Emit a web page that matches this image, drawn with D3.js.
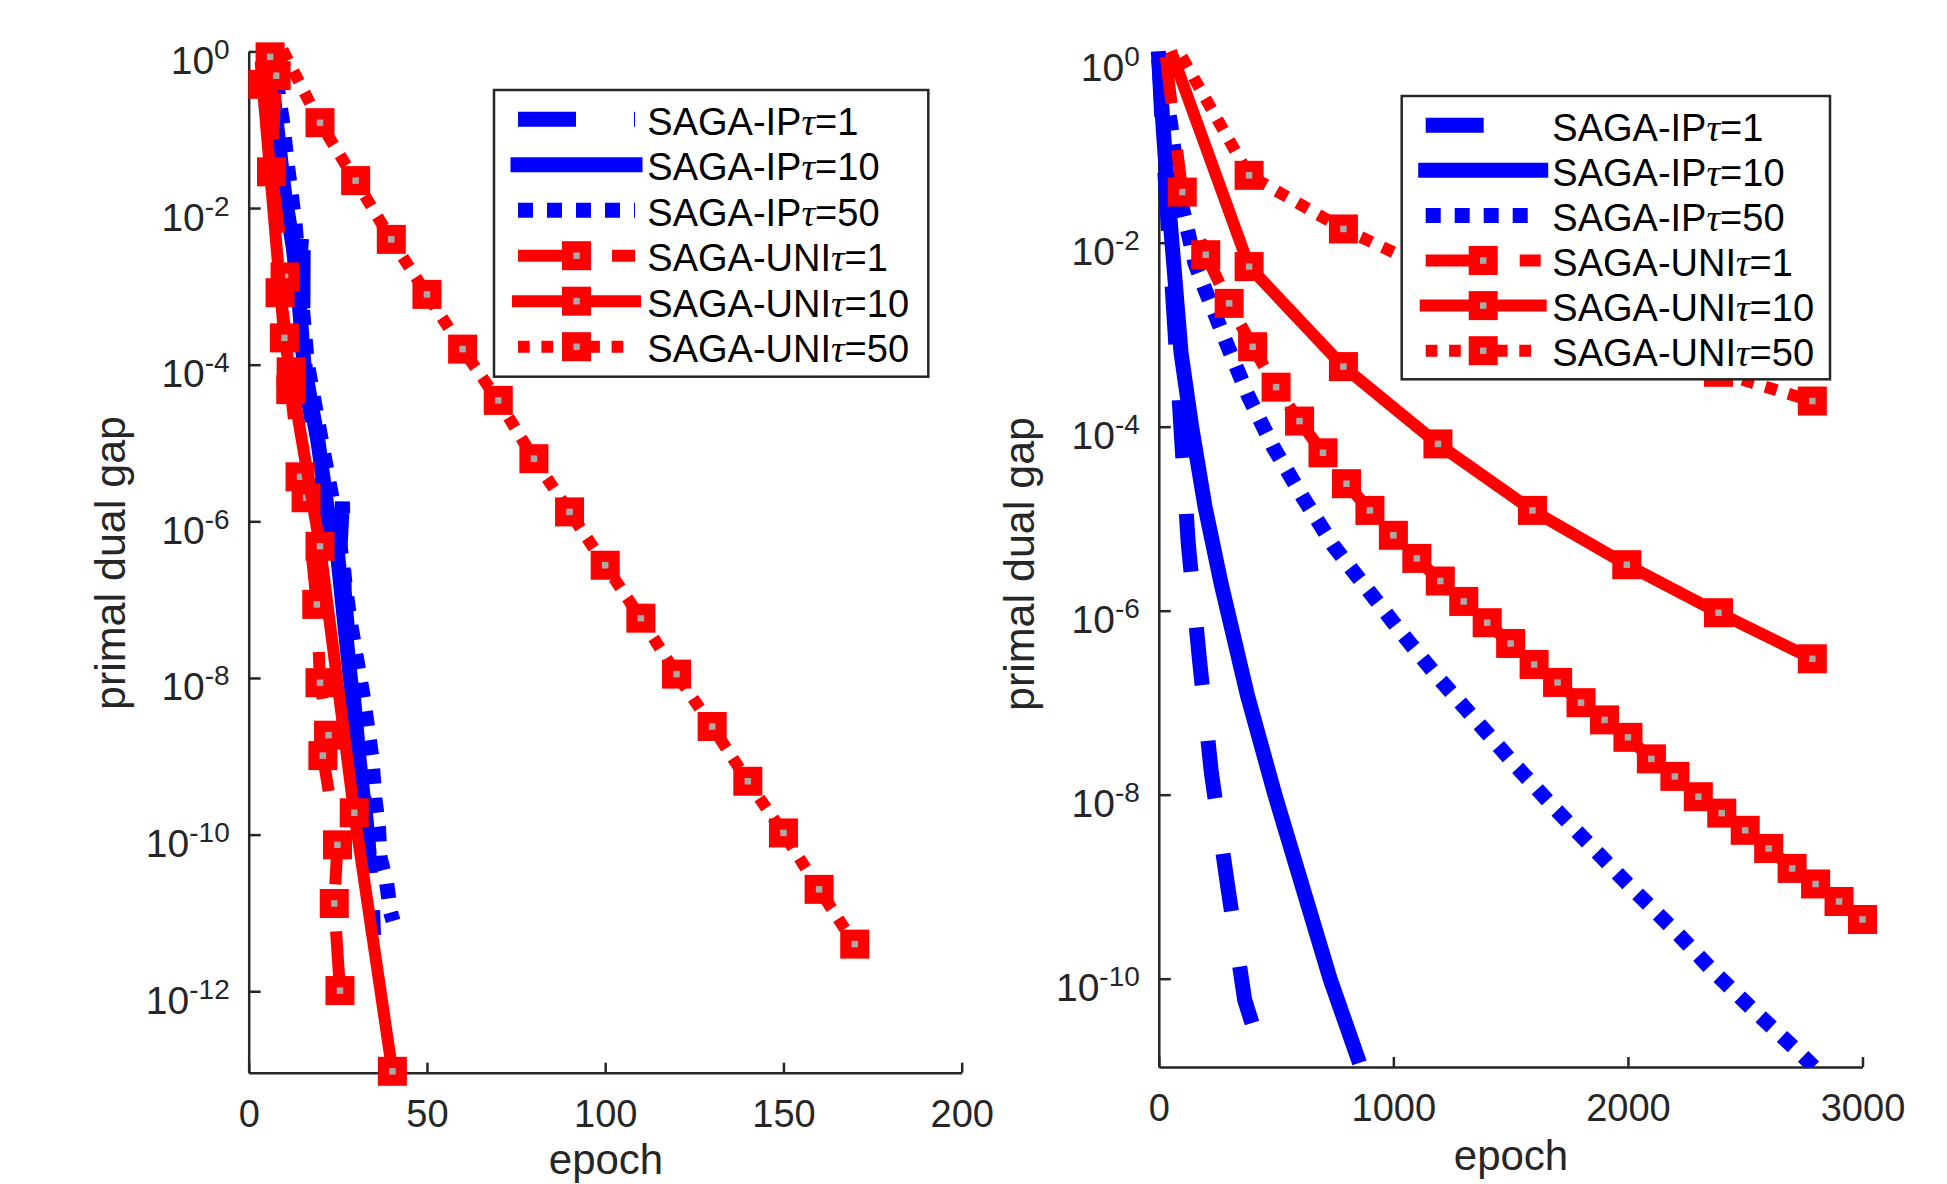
<!DOCTYPE html>
<html>
<head>
<meta charset="utf-8">
<script src="https://cdn.jsdelivr.net/npm/d3@7/dist/d3.min.js"></script>
<style>
html,body{margin:0;padding:0;background:#ffffff;}
svg{display:block;}
</style>
</head>
<body>
<svg id="fig" width="1947" height="1184" xmlns="http://www.w3.org/2000/svg"></svg>
<script>
// ---------------- DATA ----------------
const legendNames = ["SAGA-IP", "SAGA-IP", "SAGA-IP", "SAGA-UNI", "SAGA-UNI", "SAGA-UNI"];
const legendTaus  = ["1", "10", "50", "1", "10", "50"];

const leftXTicks  = [0, 50, 100, 150, 200];
const leftYTicks  = [1, 1e-2, 1e-4, 1e-6, 1e-8, 1e-10, 1e-12];
const leftYExp    = ["0", "-2", "-4", "-6", "-8", "-10", "-12"];
const rightXTicks = [0, 1000, 2000, 3000];
const rightYTicks = [1, 1e-2, 1e-4, 1e-6, 1e-8, 1e-10];
const rightYExp   = ["0", "-2", "-4", "-6", "-8", "-10"];

// ---- left panel (epoch 0..200) ----
const leftEpochIP1 = [5.5, 4.8, 7, 9, 11.5, 13.8, 15.3, 15.2, 16, 19, 22, 25.3, 26.3, 26.8, 28.5, 30.5, 32.5, 34.5, 35];
const leftGapIP1   = [1.0, 0.126, 3.16e-2, 7.9e-3, 2.5e-3, 1.0e-3, 7.8e-3, 4.0e-4, 6.3e-5, 7.9e-6, 1.26e-6, 2.5e-7, 1.78e-6, 1.26e-7, 1.58e-8, 1.58e-9, 2.5e-10, 2.5e-11, 5.2e-12];

const leftEpochIP10 = [6, 7, 8.5, 10, 12.5, 14, 15.5, 19.5, 22.5, 24.8, 28.5, 32.6, 34];
const leftGapIP10   = [1.0, 0.251, 6.3e-2, 1.58e-2, 3.16e-3, 7.9e-4, 1.0e-4, 1.0e-5, 1.0e-6, 4.3e-7, 1.0e-8, 1.86e-10, 4.0e-11];

const leftEpochIP50 = [6.5, 9.5, 11, 13, 14.5, 16.5, 20.5, 25, 28.4, 32.2, 34.5, 35.4, 36.4, 36.8, 38.7, 39.8, 40.5];
const leftGapIP50   = [1.0, 0.126, 3.16e-2, 6.3e-3, 1.0e-3, 1.0e-4, 1.0e-5, 7.9e-7, 5.5e-8, 5.5e-9, 1.0e-9, 2.9e-10, 1.26e-10, 5.2e-11, 2.4e-11, 1.02e-11, 7.9e-12];

const leftEpochUNI1 = [4.5, 4.0, 6.0, 7.7, 6.4, 10.2, 8.8, 11.9, 11.8, 14.4, 16.1, 19.1, 20, 22.4, 20.8, 24.9, 24, 25.6];
const leftGapUNI1   = [0.891, 0.38, 0.851, 0.49, 2.9e-2, 1.32e-3, 8.3e-4, 8.1e-5, 4.8e-5, 3.7e-6, 2.0e-6, 8.7e-8, 8.7e-9, 1.86e-9, 1.02e-9, 7.4e-11, 1.32e-11, 1.02e-12];

const leftEpochUNI10 = [3.5, 10, 20, 29.6, 40.3];
const leftGapUNI10   = [0.63, 2.2e-4, 4.8e-7, 1.9e-10, 9.5e-14];

const leftEpochUNI50 = [9.5, 20, 30, 40, 50, 60, 70, 80, 90, 100, 110, 120, 130, 140, 150, 160, 170];
const leftGapUNI50   = [1.05, 0.123, 2.24e-2, 3.98e-3, 7.9e-4, 1.58e-4, 3.5e-5, 6.3e-6, 1.32e-6, 2.75e-7, 5.8e-8, 1.12e-8, 2.4e-9, 4.8e-10, 1.05e-10, 2.0e-11, 4.0e-12];

// ---- right panel (epoch 0..3000) ----
const rightEpochIP1 = [0, 20, 45, 70, 95, 125, 173, 224, 294, 366, 412];
const rightGapIP1   = [1.0, 0.1, 1.0e-2, 1.0e-3, 9.1e-5, 5.6e-6, 3.0e-7, 1.74e-8, 1.0e-9, 5.9e-11, 2.5e-11];

const rightEpochIP10 = [0, 20, 40, 95, 140, 197, 265, 378, 495, 730, 845];
const rightGapIP10   = [1.0, 0.158, 3.16e-2, 6.3e-4, 1.0e-4, 1.35e-5, 2.0e-6, 1.2e-7, 1.0e-8, 1.0e-10, 1.45e-11];

const rightEpochIP50 = [0, 50, 75, 100, 126, 154, 197, 240, 290, 382, 488, 612, 744, 893, 1043, 1202, 1362, 1519, 1686, 1859, 2026, 2201, 2368, 2541, 2721, 2830];
const rightGapIP50   = [1.0, 0.2, 6.3e-2, 2.4e-2, 1.26e-2, 6.0e-3, 3.1e-3, 1.66e-3, 7.9e-4, 2.14e-4, 6.0e-5, 1.74e-5, 5.1e-6, 1.66e-6, 5.4e-7, 1.74e-7, 6.0e-8, 2.1e-8, 7.2e-9, 2.5e-9, 9.1e-10, 3.3e-10, 1.17e-10, 4.4e-11, 1.66e-11, 8.9e-12];

const rightEpochUNI1 = [30, 100, 200, 300, 400, 500, 600, 700, 800, 900, 1000, 1100, 1200, 1300, 1400, 1500, 1600, 1700, 1800, 1900, 2000, 2100, 2200, 2300, 2400, 2500, 2600, 2700, 2800, 2900, 3000];
const rightGapUNI1   = [1.05, 3.55e-2, 7.4e-3, 2.19e-3, 7.4e-4, 2.69e-4, 1.15e-4, 5.2e-5, 2.4e-5, 1.23e-5, 6.6e-6, 3.7e-6, 2.1e-6, 1.26e-6, 7.4e-7, 4.4e-7, 2.6e-7, 1.66e-7, 1.0e-7, 6.5e-8, 4.2e-8, 2.45e-8, 1.58e-8, 9.5e-9, 6.3e-9, 4.1e-9, 2.6e-9, 1.58e-9, 1.07e-9, 6.9e-10, 4.4e-10];

const rightEpochUNI10 = [61, 385, 787, 1190, 1593, 1995, 2386, 2786];
const rightGapUNI10   = [1.05, 5.5e-3, 4.5e-4, 6.5e-5, 1.23e-5, 3.16e-6, 9.5e-7, 3.0e-7];

const rightEpochUNI50 = [98, 385, 787, 1190, 1593, 1995, 2386, 2786];
const rightGapUNI50   = [1.05, 5.4e-2, 1.41e-2, 4.7e-3, 1.74e-3, 7.8e-4, 3.9e-4, 1.9e-4];

// ---------------- STYLE ----------------
const AX = "#262626";
const FONT = "'Liberation Sans', Arial, Helvetica, sans-serif";
const styles = [
  {color: "#0000ff", width: 15, dash: "58,56", legDash: "58,58",     cap: "butt",   marker: false},
  {color: "#0000ff", width: 15, dash: null,    legDash: null,        cap: "square", marker: false},
  {color: "#0000ff", width: 15, dash: "15,14", legDash: "15,14",     cap: "butt",   marker: false},
  {color: "#ff0000", width: 12, dash: "47,47", legDash: "47,47",     cap: "butt",   marker: true},
  {color: "#ff0000", width: 12, dash: null,    legDash: null,        cap: "square", marker: true},
  {color: "#ff0000", width: 12, dash: "12,12", legDash: "11.7,11.7", cap: "butt",   marker: true}
];
const MS = 29, MC = 6.5;

const panels = [
  {
    id: "L",
    x: d3.scaleLinear().domain([0, 200]).range([248.7, 961.7]),
    y: d3.scaleLog().domain([1, 9.12e-14]).range([51.4, 1072.7]),
    xTicks: leftXTicks, yTicks: leftYTicks, yExp: leftYExp,
    series: [[leftEpochIP1, leftGapIP1], [leftEpochIP10, leftGapIP10], [leftEpochIP50, leftGapIP50],
             [leftEpochUNI1, leftGapUNI1], [leftEpochUNI10, leftGapUNI10], [leftEpochUNI50, leftGapUNI50]],
    xLab: [606, 1174], yLab: [125, 563],
    leg: {x: 494, y: 90, w: 434.3, h: 286.7, row0: 119.2, dy: 45.5, s0: 518, s1: 635, tx: 647.3}
  },
  {
    id: "R",
    x: d3.scaleLinear().domain([0, 3000]).range([1158.8, 1862.5]),
    y: d3.scaleLog().domain([1, 1.096e-11]).range([58.7, 1067]),
    xTicks: rightXTicks, yTicks: rightYTicks, yExp: rightYExp,
    series: [[rightEpochIP1, rightGapIP1], [rightEpochIP10, rightGapIP10], [rightEpochIP50, rightGapIP50],
             [rightEpochUNI1, rightGapUNI1], [rightEpochUNI10, rightGapUNI10], [rightEpochUNI50, rightGapUNI50]],
    xLab: [1511, 1170], yLab: [1034, 564],
    leg: {x: 1401.7, y: 96, w: 428.3, h: 283.3, row0: 125.2, dy: 45.1, s0: 1425.7, s1: 1540.7, tx: 1552.3}
  }
];

const svg = d3.select("#fig");
svg.append("rect").attr("width", 1947).attr("height", 1184).attr("fill", "#ffffff");

function drawMarker(g, cx, cy, color) {
  g.append("rect").attr("x", cx - MS / 2).attr("y", cy - MS / 2).attr("width", MS).attr("height", MS).attr("fill", color);
  g.append("rect").attr("x", cx - MC / 2).attr("y", cy - MC / 2).attr("width", MC).attr("height", MC).attr("fill", "#aaaaaa");
}

panels.forEach(p => {
  const g = svg.append("g");
  const [x0, x1] = p.x.range();
  const [yt, yb] = p.y.range();

  // axes
  const gx = g.append("g").attr("transform", `translate(0,${yb})`)
    .call(d3.axisBottom(p.x).tickValues(p.xTicks).tickSizeInner(-10).tickSizeOuter(0).tickFormat(d3.format("d")));
  gx.attr("font-size", null).attr("font-family", null);
  gx.select(".domain").attr("stroke", AX).attr("stroke-width", 2.5);
  gx.selectAll(".tick line").attr("stroke", AX).attr("stroke-width", 2.5);
  gx.selectAll(".tick text").attr("y", 54).attr("dy", null).attr("fill", AX)
    .attr("font-size", 38).attr("font-family", FONT);

  const gy = g.append("g").attr("transform", `translate(${x0},0)`)
    .call(d3.axisLeft(p.y).tickValues(p.yTicks).tickSizeInner(-12).tickSizeOuter(0).tickPadding(19).tickFormat(() => ""));
  gy.attr("font-size", null).attr("font-family", null);
  gy.select(".domain").attr("stroke", AX).attr("stroke-width", 2.5);
  gy.selectAll(".tick line").attr("stroke", AX).attr("stroke-width", 2.5);
  gy.selectAll(".tick text").each(function (d, i) {
    const t = d3.select(this);
    t.attr("dy", null).attr("y", 22).attr("fill", AX).attr("font-size", 39).attr("font-family", FONT);
    t.append("tspan").text("10");
    t.append("tspan").attr("dy", -15).attr("font-size", 28).text(p.yExp[i]);
  });

  // axis labels
  g.append("text").attr("x", p.xLab[0]).attr("y", p.xLab[1]).attr("text-anchor", "middle")
    .attr("font-family", FONT).attr("font-size", 42).attr("fill", AX).text("epoch");
  g.append("text").attr("transform", `translate(${p.yLab[0]},${p.yLab[1]}) rotate(-90)`).attr("text-anchor", "middle")
    .attr("font-family", FONT).attr("font-size", 43).attr("fill", AX).text("primal dual gap");

  // clip for lines
  const cid = "clip" + p.id;
  svg.append("clipPath").attr("id", cid).append("rect")
    .attr("x", x0 - 30).attr("y", yt - 12).attr("width", x1 - x0 + 60).attr("height", yb - yt + 12);

  const line = d3.line().x(d => p.x(d[0])).y(d => p.y(d[1]));

  p.series.forEach((s, k) => {
    const st = styles[k];
    const pts = s[0].map((e, i) => [e, s[1][i]]);
    const sg = g.append("g");
    sg.append("path").attr("d", line(pts)).attr("clip-path", `url(#${cid})`)
      .attr("fill", "none").attr("stroke", st.color).attr("stroke-width", st.width)
      .attr("stroke-dasharray", st.dash).attr("stroke-linecap", st.cap)
      .attr("stroke-linejoin", "miter").attr("stroke-miterlimit", 4);
    if (st.marker) {
      pts.slice(1).forEach(d => drawMarker(sg, p.x(d[0]), p.y(d[1]), st.color));
    }
  });

  // legend
  const L = p.leg;
  const lg = svg.append("g");
  lg.append("rect").attr("x", L.x).attr("y", L.y).attr("width", L.w).attr("height", L.h)
    .attr("fill", "#ffffff").attr("stroke", AX).attr("stroke-width", 2.5);
  legendNames.forEach((name, k) => {
    const st = styles[k];
    const ry = L.row0 + k * L.dy;
    lg.append("line").attr("x1", L.s0).attr("x2", L.s1).attr("y1", ry).attr("y2", ry)
      .attr("stroke", st.color).attr("stroke-width", st.width)
      .attr("stroke-dasharray", st.legDash).attr("stroke-linecap", st.cap);
    if (st.marker) drawMarker(lg, (L.s0 + L.s1) / 2, ry, st.color);
    const t = lg.append("text").attr("x", L.tx).attr("y", ry + 15.5)
      .attr("font-family", FONT).attr("font-size", 38).attr("fill", "#000");
    t.append("tspan").text(name);
    t.append("tspan").attr("font-family", "'Liberation Serif', 'DejaVu Serif', serif").attr("font-style", "italic").text("\u03C4");
    t.append("tspan").text("=" + legendTaus[k]);
  });
});
</script>
</body>
</html>
